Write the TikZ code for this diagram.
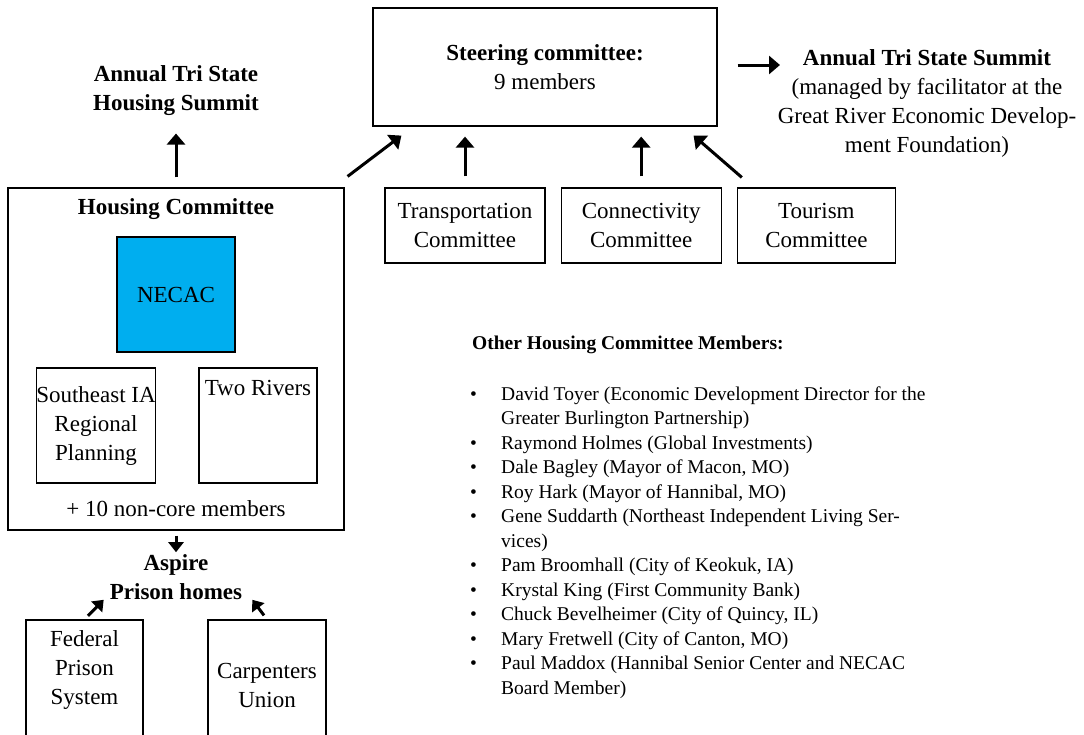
\documentclass[tikz,border=0pt]{standalone}
\usepackage{fontspec}
\setmainfont{Liberation Serif}
\usetikzlibrary{positioning,arrows.meta}
\definecolor{necacblue}{HTML}{00AEEF}
\tikzstyle{combox}=[rectangle, draw=black, line width=1.2pt, align=center, inner sep=2pt]
\tikzstyle{subbox}=[rectangle, draw=black, line width=1.2pt, align=center, inner xsep=0pt,
 minimum width=118pt, minimum height=115pt]
\tikzstyle{arr}=[-{Triangle[width=18pt,length=11pt]}, line width=3pt]
\tikzstyle{sarr}=[-{Triangle[width=15pt,length=10pt]}, line width=3pt]

\begin{document}
\begin{tikzpicture}[x=1pt, y=-1pt, node distance=15pt, font=\fontsize{23}{29}\selectfont]
\useasboundingbox (0,0) rectangle (1084,734);
\clip (0,0) rectangle (1084,734);

	\node (steer) [combox, minimum width=344pt, minimum height=118pt] at (545,67) {\textbf{Steering committee:}\\9 members};
	\node (tsummit) [align=center, inner sep=0pt] at (927,103) {\textbf{Annual Tri State Summit}\\(managed by facilitator at the\\Great River Economic Develop-\\ment Foundation)};
	\coordinate (tsin) at (780,65);
	\node (hsummit) [align=center] at (176,91) {\textbf{Annual Tri State}\\\textbf{Housing Summit}};

%  HOUSING
	\node (housing) [combox, minimum width=336pt, minimum height=342pt] at (176,359) {};
	\node (hctitle) at (176,209) {\textbf{Housing Committee}};
	\node (necac) [subbox, fill=necacblue] at (176,294.5) {NECAC};
	\node (seia) [subbox] at (96,425.5) {Southeast IA\\Regional\\Planning};
	\node (tworiv) [subbox, right=42pt of seia, label={[anchor=north, yshift=-9pt]north:Two Rivers}] {};
	\node (noncore) at (176,509) {+ 10 non-core members};

	\node (aspire) [align=center, inner sep=2pt] at (176,577) {\textbf{Aspire}\\\textbf{Prison homes}};
	\node (federal) [subbox, minimum width=117pt, minimum height=130pt, label={[anchor=north, align=center, yshift=-8pt]north:Federal\\Prison\\System}] at (84.5,685) {};
	\node (carpent) [subbox, minimum height=130pt] at (267,685) {Carpenters\\Union};

%  COMMITTEES
	\node (transp) [combox, minimum width=160pt, minimum height=75pt] at (465,225.5) {Transportation\\Committee};
	\node (connect) [combox, minimum width=160pt, minimum height=75pt, right=of transp] {Connectivity\\Committee};
	\node (tourism) [combox, minimum width=158pt, minimum height=75pt, right=of connect] {Tourism\\Committee};

%  MEMBERS
	\node (othertitle) [anchor=west, inner sep=0pt, font=\fontsize{19.5}{24.5}\selectfont] at (472,345) {\textbf{Other Housing Committee Members:}};
	\node (members) [anchor=north west, inner sep=0pt, font=\fontsize{19.5}{24.5}\selectfont] at (470,383) {%
	\begin{tabular}{@{}p{31pt}@{}l@{}}
	\textbullet & David Toyer (Economic Development Director for the\\
	 & Greater Burlington Partnership)\\
	\textbullet & Raymond Holmes (Global Investments)\\
	\textbullet & Dale Bagley (Mayor of Macon, MO)\\
	\textbullet & Roy Hark (Mayor of Hannibal, MO)\\
	\textbullet & Gene Suddarth (Northeast Independent Living Ser-\\
	 & vices)\\
	\textbullet & Pam Broomhall (City of Keokuk, IA)\\
	\textbullet & Krystal King (First Community Bank)\\
	\textbullet & Chuck Bevelheimer (City of Quincy, IL)\\
	\textbullet & Mary Fretwell (City of Canton, MO)\\
	\textbullet & Paul Maddox (Hannibal Senior Center and NECAC\\
	 & Board Member)
	\end{tabular}};

   \draw[arr, shorten <=10pt, shorten >=14pt] (housing.north) to (hsummit.south);
   \draw[arr] ([shift={(3,-11)}]housing.north east) to ([shift={(29,9)}]steer.south west);
   \draw[arr, shorten <=11pt, shorten >=10pt] (transp.north) to (transp.north |- steer.south);
   \draw[arr, shorten <=11pt, shorten >=10pt] (connect.north) to (connect.north |- steer.south);
   \draw[arr] ([shift={(5,-10)}]tourism.north west) to ([shift={(-24,9)}]steer.south east);
   \draw[arr] ([shift={(20,-2)}]steer.east) to (tsin);
%aspire
   \draw[sarr, shorten <=5pt] (housing.south) to (aspire.north);
   \draw[sarr, shorten <=5pt] (federal.north) to ([shift={(-4,-2)}]aspire.south west);
   \draw[sarr, shorten <=5pt] (carpent.north) to ([shift={(8,-2)}]aspire.south east);

\end{tikzpicture}
\end{document}
